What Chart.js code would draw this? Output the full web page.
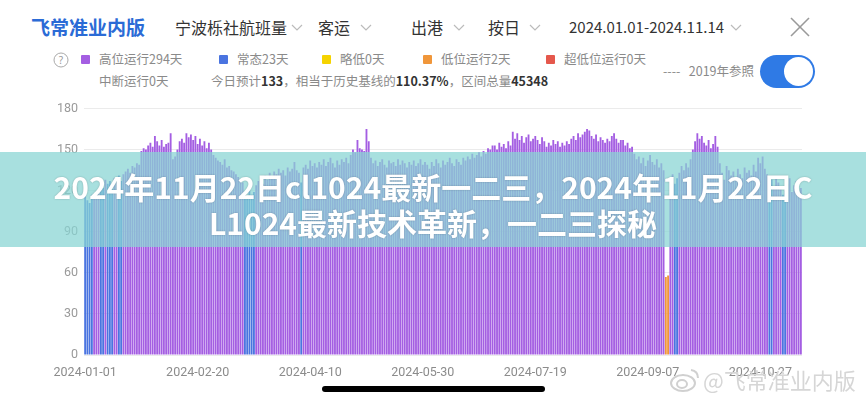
<!DOCTYPE html>
<html><head><meta charset="utf-8">
<script src="https://cdn.jsdelivr.net/npm/chart.js@4.4.0/dist/chart.umd.min.js"></script>
<style>
html,body{margin:0;padding:0;background:#fff;width:866px;height:400px;overflow:hidden;font-family:"Noto Sans CJK SC","Noto Sans",sans-serif;}
#wrap{position:relative;width:866px;height:400px;}
.t{position:absolute;white-space:nowrap;line-height:1;}
.hdr{font-size:16px;color:#333;}
.lg{font-size:12.5px;color:#8a8a8a;}
.sq{position:absolute;width:9px;height:9px;border-radius:1px;}
#chartBox{position:absolute;left:0;top:95px;width:830px;height:295px;}
#banner{position:absolute;left:0;top:152px;width:866px;height:95px;background:rgba(136,212,211,0.73);z-index:5;}
#banner div{position:absolute;left:0;width:866px;text-align:center;color:#fff;font-weight:700;font-size:30px;line-height:1;text-shadow:0 0 2px rgba(0,0,0,0.25);white-space:nowrap;}
</style>
</head><body><div id="wrap">

<div class="t" style="left:31px;top:17px;font-size:19px;color:#2b6bd6;font-weight:600;">飞常准业内版</div>
<div class="t hdr" style="left:175px;top:19px;">宁波栎社航班量</div>
<svg class="t" style="left:291px;top:24px" width="12" height="8"><polyline points="1,1 6,6 11,1" fill="none" stroke="#bbb" stroke-width="1.2"/></svg>
<div class="t hdr" style="left:318px;top:19px;">客运</div>
<svg class="t" style="left:360px;top:24px" width="12" height="8"><polyline points="1,1 6,6 11,1" fill="none" stroke="#bbb" stroke-width="1.2"/></svg>
<div class="t hdr" style="left:411px;top:19px;">出港</div>
<svg class="t" style="left:453px;top:24px" width="12" height="8"><polyline points="1,1 6,6 11,1" fill="none" stroke="#bbb" stroke-width="1.2"/></svg>
<div class="t hdr" style="left:488px;top:19px;">按日</div>
<svg class="t" style="left:529px;top:24px" width="12" height="8"><polyline points="1,1 6,6 11,1" fill="none" stroke="#bbb" stroke-width="1.2"/></svg>
<div class="t hdr" style="left:569px;top:19px;font-size:15px;">2024.01.01-2024.11.14</div>
<svg class="t" style="left:730px;top:24px" width="12" height="8"><polyline points="1,1 6,6 11,1" fill="none" stroke="#bbb" stroke-width="1.2"/></svg>
<svg class="t" style="left:789px;top:16px" width="22" height="22"><line x1="2" y1="2" x2="20" y2="20" stroke="#9a9a9a" stroke-width="1.6"/><line x1="20" y1="2" x2="2" y2="20" stroke="#9a9a9a" stroke-width="1.6"/></svg>

<svg class="t" style="left:53px;top:52px" width="16" height="16"><circle cx="8" cy="8" r="7" fill="none" stroke="#aaa" stroke-width="1"/><text x="8" y="12" text-anchor="middle" font-size="10" fill="#999" font-family="Noto Sans">?</text></svg>
<div id="legend"></div>
<div class="t lg" style="left:663px;top:65px;">----&nbsp;&nbsp;&nbsp;2019年参照</div>
<div class="t" style="left:760px;top:55px;width:55px;height:33px;border-radius:17px;background:#2f7ae5;"></div>
<div class="t" style="left:784px;top:57px;width:29px;height:29px;border-radius:15px;background:#fff;"></div>

<div id="chartBox"><canvas id="c"></canvas></div>

<div id="banner">
<div style="top:19px;">2024年11月22日cl1024最新一二三，2024年11月22日C</div>
<div style="top:55px;">L1024最新技术革新，一二三探秘</div>
</div>

<svg class="t" style="left:669px;top:366px" width="32" height="28"><ellipse cx="14" cy="17" rx="12" ry="8" fill="none" stroke="#d0d0d0" stroke-width="2"/><ellipse cx="13" cy="18" rx="5" ry="4" fill="none" stroke="#d0d0d0" stroke-width="2"/><path d="M22 4 Q29 5 29 12" fill="none" stroke="#d0d0d0" stroke-width="2"/></svg>
<div class="t" style="left:703px;top:368px;font-size:22px;color:#d6d6d6;">@飞常准业内版</div>
<div class="t" style="left:322px;top:386px;width:223px;height:6px;border-radius:3px;background:#000;"></div>
</div>

<script>
// daily departing passenger flights, Ningbo Lishe, 2024-01-01 .. 2024-11-14
const jan=[116,113,111,117,118,115,119,124,122,128,125,127,121,129,126,131,127,132,134,136,133,138,137,140,139,149,151,150,153,155,152];
const feb=[160,156,153,157,152,154,155,162,143,145,150,156,158,155,162,159,161,157,160,154,158,153,156,151,155,150,146,144,142];
const mar=[141,139,143,137,138,135,134,132,130,128,126,118,116,120,117,119,124,127,129,125,131,128,133,130,134,132,136,133,135,131,137];
const apr=[134,136,141,135,133,126,137,139,136,142,138,140,137,141,139,143,138,141,144,140,137,142,139,143,141,144,140,146,150,148];
const may=[157,151,150,149,165,156,144,140,142,138,141,143,139,137,142,140,141,138,143,139,142,140,137,141,139,142,138,140,143,139,141];
const jun=[139,136,141,138,143,140,137,142,139,141,144,140,138,143,141,139,144,142,145,143,147,144,146,148,145,149,147,151,150,153];
const jul=[153,150,155,152,154,151,156,153,163,158,162,157,160,155,159,161,156,158,160,157,154,159,156,152,155,153,157,154,156,152,155];
const aug=[153,156,154,158,160,157,162,159,161,163,165,164,160,158,161,156,159,157,155,158,156,160,162,158,155,157,157,153,155,151,152];
const sep=[147,143,145,140,144,138,142,146,141,139,143,137,140,135,57,58,128,132,125,129,133,138,135,140,137,143,150,156,162,158];
const oct=[160,155,153,157,151,154,160,152,140,133,128,138,135,131,134,130,136,132,129,137,133,135,131,139,134,144,140,145,136,132,127];
const nov=[128,123,130,126,121,117,120,125,129,119,124,127,118,122];

const normalDates=['2024-01-01','2024-01-02','2024-01-03','2024-01-04','2024-01-08','2024-01-09','2024-01-11','2024-01-12','2024-01-13','2024-01-16','2024-01-17','2024-03-12','2024-03-13','2024-03-14','2024-03-15','2024-03-16','2024-04-06','2024-09-19','2024-09-20','2024-10-31','2024-11-01','2024-11-06','2024-11-07'];
const lowDates=['2024-09-15','2024-09-16'];
const slightlyLowDates=[];
const veryLowDates=[];
const suspendedDates=[];
const tickLabels=['2024-01-01','2024-02-20','2024-04-10','2024-05-30','2024-07-19','2024-09-07','2024-10-27'];
const yTicks=[0,30,60,90,120,150,180];
const todayForecast='133', baselinePct='110.37%';

const values=[].concat(jan,feb,mar,apr,may,jun,jul,aug,sep,oct,nov);
const categories=values.map((_,i)=>new Date(Date.UTC(2024,0,1+i)).toISOString().slice(0,10));
const status=categories.map(d=>normalDates.includes(d)?'normal':lowDates.includes(d)?'low':slightlyLowDates.includes(d)?'slight':veryLowDates.includes(d)?'very':'high');
const total=values.reduce((a,b)=>a+b,0);

const C={high:'#a45ee2',normal:'#4a74e0',slight:'#f5d300',low:'#f0963a',very:'#e5584c'};
const names={high:'高位运行',normal:'常态',slight:'略低',low:'低位运行',very:'超低位运行'};
const count=k=>status.filter(s=>s===k).length;

// legend (HTML)
const lgX={high:[81,99],normal:[219,237],slight:[322,340],low:[423,441],very:[546,564]};
let h='';
for(const k of ['high','normal','slight','low','very']){
  h+=`<div class="sq" style="left:${lgX[k][0]}px;top:55px;background:${C[k]}"></div>`;
  h+=`<div class="t lg" style="left:${lgX[k][1]}px;top:53px;">${names[k]}${count(k)}天</div>`;
}
h+=`<div class="t lg" style="left:99px;top:75px;">中断运行${suspendedDates.length}天</div>`;
h+=`<div class="t lg" style="left:211px;top:75px;">今日预计<b style="color:#333">${todayForecast}</b>，相当于历史基线的<b style="color:#333">${baselinePct}</b>，区间总量<b style="color:#333">${total}</b></div>`;
document.getElementById('legend').innerHTML=h;

const mk=k=>({label:names[k],data:values.map((v,i)=>status[i]===k?v:null),backgroundColor:C[k],borderWidth:0,barPercentage:1,categoryPercentage:0.82,stack:'s'});

new Chart(document.getElementById('c'),{
  type:'bar',
  data:{labels:categories,datasets:['high','normal','slight','low','very'].map(mk)},
  options:{
    responsive:true,maintainAspectRatio:false,animation:false,
    layout:{padding:{top:12,right:28,left:0,bottom:0}},
    plugins:{legend:{display:false},tooltip:{enabled:false}},
    scales:{
      x:{stacked:true,grid:{display:false,drawTicks:false},border:{display:false},
         ticks:{autoSkip:false,maxRotation:0,minRotation:0,padding:10,color:'#8c8c8c',font:{family:'Roboto',size:12.5},
           callback:(v,i)=>tickLabels.includes(categories[i])?categories[i]:''},
         afterFit:s=>{s.height=35;}},
      y:{stacked:true,min:0,max:180,grid:{color:'#ebebeb',drawTicks:false},border:{display:false},
         afterBuildTicks:s=>{s.ticks=yTicks.map(v=>({value:v}));},
         ticks:{padding:6,color:'#9a9a9a',font:{family:'Roboto',size:12.5}},
         afterFit:s=>{s.width=84;}}
    }
  }
});
</script>
</body></html>
